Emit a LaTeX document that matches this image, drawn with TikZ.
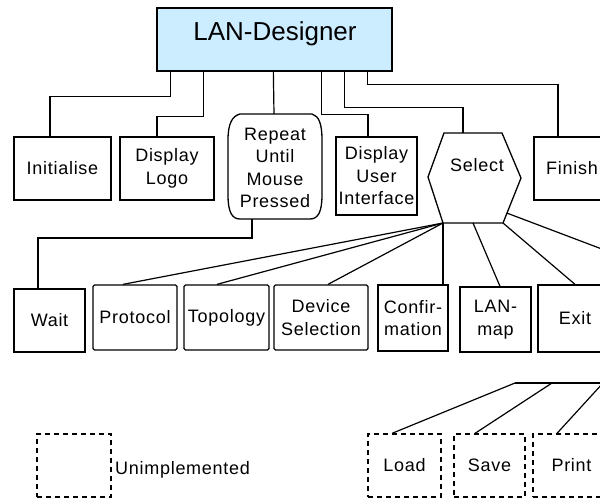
\documentclass[tikz,border=0pt]{standalone}
\usepackage{fontspec}
\setmainfont{Liberation Sans}
\newfontfamily\boxfont[LetterSpace=4]{Liberation Sans}
\usetikzlibrary{calc}
\definecolor{titlefill}{RGB}{204,236,255}
\tikzset{
  wire/.style={draw=black, line width=1.2pt},
  box/.style={draw=black, line width=1.3pt, rectangle, inner sep=0pt, align=center,
    font=\boxfont\fontsize{18}{22.5}\selectfont},
  rbox/.style={box, rounded corners=1.5pt},
  dbox/.style={box, dash pattern=on 5pt off 4pt},
  label/.style={inner sep=0pt, align=center, font=\boxfont\fontsize{18}{22.5}\selectfont}
}
\begin{document}
\begin{tikzpicture}[x=1pt, y=-1pt]
\useasboundingbox (0,0) rectangle (600,499);
\clip (0,0) rectangle (600,499);

% root
\node[draw=black, line width=1.3pt, fill=titlefill, minimum width=235pt, minimum height=63pt,
      inner sep=0pt] (lan) at (274.5,39.5) {};
\node[anchor=base, inner sep=0pt, font=\fontsize{26}{30}\selectfont] (lantext) at (275,40) {LAN-Designer};

% first level
\node[box, minimum width=97pt, minimum height=63pt] (init) at (62.5,168.5) {Initialise};
\node[box, minimum width=94pt, minimum height=63pt] (logo) at (167,168.5) {Display\\Logo};
% loop shape: straight top and bottom, bowed sides
\path[draw=black, line width=1.3pt]
  (240,114) -- (312,114) .. controls (319,116) and (322,124) .. (322,140)
  -- (322,195) .. controls (322,212) and (318,219) .. (310,219)
  -- (240,219) .. controls (232,219) and (228,212) .. (228,195)
  -- (228,140) .. controls (228,124) and (232,116) .. (240,114) -- cycle;
\coordinate (rept) at (274,114);
\coordinate (repb) at (252,219);
\node[label] (rep) at (275,168) {Repeat\\Until\\Mouse\\Pressed};
\node[box, minimum width=81pt, minimum height=78pt] (dui) at (376.5,176) {Display\\User\\Interface};
\coordinate (seltl) at (444,133);
\coordinate (seltr) at (502,133);
\coordinate (selr) at (521,178);
\coordinate (selbr) at (503,223);
\coordinate (selbl) at (443,223);
\coordinate (sell) at (428,177);
\draw[line width=1.3pt] (seltl) -- (seltr) -- (selr) -- (selbr) -- (selbl) -- (sell) -- cycle;
\coordinate (seltop) at (463,133);
\node[label] (sel) at (477,165) {Select};
\node[box, minimum width=76pt, minimum height=63pt] (finish) at (572,168.5) {Finish};

% connectors from the root
\draw[wire] ([xshift=14pt]lan.south west) -- ++(0,25) -| ([xshift=-12.5pt]init.north);
\draw[wire] ([xshift=47pt]lan.south west) -- ++(0,45) -| ([xshift=-10pt]logo.north);
\draw[wire] ([xshift=117pt]lan.south west) -- (rept);
\draw[wire] ([xshift=165pt]lan.south west) -- ++(0,43) -| ([xshift=-8.5pt]dui.north);
\draw[wire] ([xshift=188pt]lan.south west) -- ++(0,36) -| (seltop);
\draw[wire] ([xshift=211pt]lan.south west) -- ++(0,13) -| ([xshift=-14pt]finish.north);

% second level
\node[box, minimum width=71pt, minimum height=63pt] (wait) at (49.5,320.5) {Wait};
\node[rbox, minimum width=84pt, minimum height=65pt] (proto) at (135,317.5) {Protocol};
\node[rbox, minimum width=85pt, minimum height=65pt] (topo) at (226.5,317.5) {Topology};
\node[rbox, minimum width=94pt, minimum height=65pt] (dev) at (321,317.5) {Device\\Selection};
\node[box, minimum width=70pt, minimum height=66pt] (conf) at (413,318) {Confir-\\mation};
\node[box, minimum width=71pt, minimum height=65pt] (lanmap) at (495.5,319.5) {LAN-\\map};
\node[box, minimum width=74pt, minimum height=67pt] (exit) at (575,318.5) {Exit};

\draw[wire] (repb) -- ++(0,19) -| ([xshift=-11.5pt]wait.north);
\draw[wire] (selbl) -- ([xshift=-12pt]proto.north);
\draw[wire] (selbl) -- ([xshift=-9.5pt]topo.north);
\draw[wire] (selbl) -- ([xshift=7pt]dev.north);
\draw[wire] (selbl) -- ([xshift=30pt]conf.north);
\draw[wire] ($(selbl)!0.5!(selbr)$) -- ([xshift=4.5pt]lanmap.north);
\draw[wire] (selbr) -- (exit.north);
\coordinate (offA) at (660,271);
\draw[wire] ($(selbr)!0.22!(selr)$) -- (offA);

% third level (file operations, not implemented)
\coordinate (bus1) at (515,383);
\coordinate (bus2) at (552,383);
\coordinate (bus3) at (603,383);
\coordinate (busend) at (660,383);
\node[dbox, minimum width=73pt, minimum height=63pt] (load) at (404.5,465.5) {Load};
\node[dbox, minimum width=71pt, minimum height=63pt] (save) at (489.5,465.5) {Save};
\node[dbox, minimum width=77pt, minimum height=63pt] (print) at (571.5,465.5) {Print};
\draw[wire] (bus1) -- (busend);
\draw[wire] (bus1) -- ([xshift=-12.5pt]load.north);
\draw[wire] (bus2) -- ([xshift=-14.5pt]save.north);
\draw[wire] (bus3) -- ([xshift=-14.5pt]print.north);

% legend
\node[dbox, minimum width=74pt, minimum height=63pt] (legend) at (74,465.5) {};
\node[label, anchor=west] (legendtext) at (115,470) {Unimplemented};
\end{tikzpicture}
\end{document}
